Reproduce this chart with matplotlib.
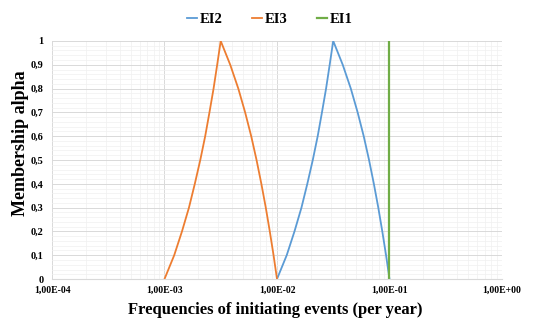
import numpy as np
import matplotlib
matplotlib.use('Agg')
import matplotlib.pyplot as plt
from matplotlib.ticker import MultipleLocator, LogLocator, NullFormatter

# membership levels
alpha = [0, 0.1, 0.2, 0.3, 0.4, 0.5, 0.6, 0.7, 0.8, 0.9, 1,
         0.9, 0.8, 0.7, 0.6, 0.5, 0.4, 0.3, 0.2, 0.1, 0]

# EI3 frequencies
ei3_x = [1.00e-3, 1.22e-3, 1.43e-3, 1.65e-3, 1.86e-3, 2.08e-3, 2.30e-3, 2.51e-3,
         2.73e-3, 2.94e-3, 3.16e-3,
         3.84e-3, 4.53e-3, 5.21e-3, 5.90e-3, 6.58e-3, 7.26e-3, 7.95e-3, 8.63e-3,
         9.32e-3, 1.00e-2]

# EI2 frequencies
ei2_x = [1.00e-2, 1.22e-2, 1.43e-2, 1.65e-2, 1.86e-2, 2.08e-2, 2.30e-2, 2.51e-2,
         2.73e-2, 2.94e-2, 3.16e-2,
         3.84e-2, 4.53e-2, 5.21e-2, 5.90e-2, 6.58e-2, 7.26e-2, 7.95e-2, 8.63e-2,
         9.32e-2, 1.00e-1]

# EI1 is crisp
ei1_x = [1e-1] * 11
ei1_alpha = [0, 0.1, 0.2, 0.3, 0.4, 0.5, 0.6, 0.7, 0.8, 0.9, 1]

x_ticks = [1e-4, 1e-3, 1e-2, 1e-1, 1e0]
x_labels = ['1,00E-04', '1,00E-03', '1,00E-02', '1,00E-01', '1,00E+00']
y_ticks = [0, 0.1, 0.2, 0.3, 0.4, 0.5, 0.6, 0.7, 0.8, 0.9, 1]
y_labels = ['0', '0,1', '0,2', '0,3', '0,4', '0,5', '0,6', '0,7', '0,8', '0,9', '1']

plt.rcParams['font.family'] = ['Liberation Serif', 'DejaVu Serif']
plt.rcParams['font.weight'] = 'bold'

fig = plt.figure(figsize=(5.45, 3.2), dpi=100)
ax = fig.add_axes([0.0954, 0.128, 0.8257, 0.744])

ax.plot(ei2_x, alpha, color='#5B9BD5', lw=1.3, label='EI2')
ax.plot(ei3_x, alpha, color='#ED7D31', lw=1.3, label='EI3')
ax.plot(ei1_x, ei1_alpha, color='#70AD47', lw=1.6, label='EI1')

ax.set_xscale('log')
ax.set_xlim(1e-4, 1e0)
ax.set_ylim(0, 1)
ax.set_xticks(x_ticks)
ax.set_xticklabels(x_labels)
ax.xaxis.set_minor_locator(LogLocator(base=10, subs=np.arange(2, 10)))
ax.xaxis.set_minor_formatter(NullFormatter())
ax.set_yticks(y_ticks)
ax.set_yticklabels(y_labels)
ax.yaxis.set_minor_locator(MultipleLocator(0.02))

ax.grid(which='major', color='#d9d9d9', lw=0.7)
ax.grid(which='minor', color='#f0f0f0', lw=0.5)
ax.set_axisbelow(True)
for s in ax.spines.values():
    s.set_visible(False)
ax.spines['bottom'].set_visible(True)
ax.spines['bottom'].set_color('#d9d9d9')
ax.tick_params(which='both', length=0)
ax.tick_params(axis='x', labelsize=7, pad=5)
ax.tick_params(axis='y', labelsize=7.5, pad=6)

ax.set_xlabel('Frequencies of initiating events (per year)', fontsize=12, fontweight='bold')
ax.xaxis.set_label_coords(0.497, -0.097)
ax.set_ylabel('Membership alpha', fontsize=13, fontweight='bold')
ax.yaxis.set_label_coords(-0.05, 0.57)

fig.legend(loc='upper center', bbox_to_anchor=(0.495, 1.0), ncol=3, frameon=False,
           handlelength=0.7, handletextpad=0.2, columnspacing=2.0,
           prop={'weight': 'bold', 'size': 10.5})

fig.savefig('out.png', dpi=100)
